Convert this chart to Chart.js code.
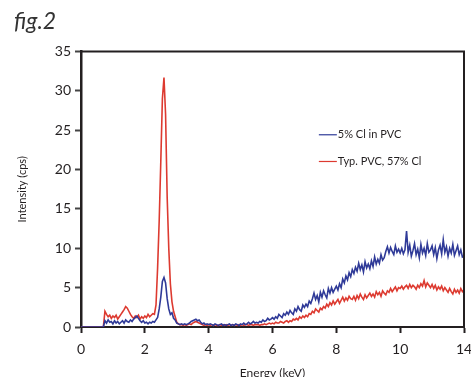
<!DOCTYPE html>
<html>
<head>
<meta charset="utf-8">
<title>fig.2</title>
<script src="https://cdn.jsdelivr.net/npm/chart.js@4.4.0/dist/chart.umd.min.js"></script>
<style>
  html, body { margin: 0; padding: 0; background: #fff; }
</style>
</head>
<body>
<canvas id="spectrumChart" width="471" height="377"></canvas>
<script>
// channel calibration: one reading every 0.05 keV starting at 0 keV
const energyStart = 0;
const energyStep = 0.05;

// 5% Cl in PVC (blue), rows of ten = 0.5 keV each, last value at 12.00 keV
const lowClCounts = [
  0, 0, 0, 0, 0, 0, 0, 0, 0, 0,
  0, 0, 0, 0, 0, 0.8, 0.5, 0.9, 0.6, 0.7,
  0.4, 0.8, 0.5, 0.7, 0.4, 0.6, 0.8, 0.5, 0.9, 0.7,
  0.6, 0.9, 0.7, 1.0, 1.2, 1.4, 1.1, 0.8, 0.6, 0.8,
  0.5, 0.6, 0.4, 0.6, 0.5, 0.7, 0.6, 0.9, 1.2, 2.3,
  3.8, 5.8, 6.3, 5.6, 3.6, 2.3, 1.6, 1.8, 1.1, 0.9,
  0.5, 0.4, 0.3, 0.4, 0.3, 0.4, 0.3, 0.4, 0.5, 0.7,
  0.8, 0.9, 1.0, 0.8, 0.9, 0.6, 0.4, 0.5, 0.3, 0.4,
  0.3, 0.4, 0.3, 0.2, 0.4, 0.3, 0.2, 0.3, 0.4, 0.2,
  0.3, 0.2, 0.3, 0.4, 0.2, 0.3, 0.2, 0.4, 0.3, 0.2,
  0.4, 0.3, 0.5, 0.3, 0.4, 0.6, 0.4, 0.5, 0.7, 0.5,
  0.6, 0.5, 0.7, 0.6, 0.9, 0.7, 0.8, 1.1, 0.9, 1.0,
  1.2, 1.0, 1.3, 1.1, 1.6, 1.4, 1.2, 1.7, 1.5, 1.9,
  1.6, 2.1, 1.8, 1.6, 2.3, 2.0, 2.6, 2.2, 2.0, 2.8,
  2.5, 2.9, 2.6, 3.3, 3.0, 3.6, 4.3, 3.5, 4.0, 3.2,
  4.4, 3.8, 4.6, 4.1, 3.7, 4.9, 4.3, 5.0, 4.4, 4.8,
  5.2, 4.7, 5.5, 5.0, 6.1, 5.6, 6.5, 6.0, 6.9, 6.4,
  7.3, 6.8, 7.6, 7.1, 8.1, 7.3, 7.9, 7.0, 8.3, 7.5,
  8.0, 7.4, 8.4, 7.7, 8.9, 8.0, 8.6, 8.1, 9.2, 8.5,
  8.8, 9.6, 10.2, 9.4, 10.1, 9.6, 9.2, 10.3, 9.5, 9.9,
  9.4, 10.0, 9.3, 9.8, 12.2, 9.5, 10.4, 9.0, 9.7, 10.6,
  9.2, 9.9, 8.8, 10.5, 9.4, 10.0, 9.1, 10.6, 9.5, 9.8,
  10.3, 9.2, 10.1, 8.7, 9.8, 10.4, 9.3, 11.1, 9.5, 10.2,
  9.0, 10.0, 9.4, 10.5, 9.1, 9.7, 10.3, 9.2, 9.8, 8.9,
  9.0
];

// Typ. PVC, 57% Cl (red)
const typPvcCounts = [
  0, 0, 0, 0, 0, 0, 0, 0, 0, 0,
  0, 0, 0, 0, 0, 2.0, 1.6, 1.3, 1.5, 1.1,
  1.4, 1.2, 1.5, 1.0, 1.3, 1.6, 1.9, 2.2, 2.6, 2.4,
  2.0, 1.6, 1.3, 1.1, 1.4, 1.2, 1.5, 1.0, 1.3, 1.1,
  1.4, 1.2, 1.6, 1.3, 1.5, 1.7, 1.6, 2.8, 7.5, 13.5,
  21.0, 29.0, 31.7, 27.0, 16.5, 10.0, 5.5, 3.2, 2.0, 1.3,
  0.6, 0.4, 0.3, 0.3, 0.2, 0.3, 0.2, 0.3, 0.4, 0.3,
  0.5, 0.6, 0.7, 0.6, 0.5, 0.4, 0.3, 0.2, 0.3, 0.2,
  0.3, 0.2, 0.3, 0.2, 0.3, 0.2, 0.2, 0.3, 0.2, 0.3,
  0.2, 0.3, 0.2, 0.3, 0.2, 0.3, 0.2, 0.3, 0.2, 0.3,
  0.2, 0.3, 0.2, 0.3, 0.3, 0.2, 0.3, 0.3, 0.2, 0.3,
  0.3, 0.3, 0.2, 0.3, 0.3, 0.4, 0.3, 0.4, 0.5, 0.4,
  0.5, 0.4, 0.6, 0.5, 0.5, 0.7, 0.6, 0.5, 0.7, 0.8,
  0.6, 0.8, 0.7, 1.0, 0.9, 1.1, 0.9, 1.3, 1.1, 1.4,
  1.2, 1.5, 1.3, 1.7, 1.6, 2.0, 1.8, 2.3, 2.1, 1.9,
  2.4, 2.2, 2.6, 2.4, 2.9, 2.6, 3.1, 2.8, 3.3, 2.9,
  3.2, 3.5, 3.0, 3.4, 3.8, 3.3, 3.7, 3.4, 3.9, 3.6,
  3.5, 3.9, 3.4, 4.0, 3.6, 4.2, 3.8, 3.5, 4.1, 3.7,
  4.0, 4.3, 3.9, 4.2, 3.8, 4.5, 4.1, 4.4, 3.9, 4.6,
  4.3, 4.1, 4.6, 4.4, 4.9, 4.5, 4.8, 5.1, 4.6, 5.0,
  4.9, 5.2, 4.8, 5.1, 5.3, 4.9, 5.4, 5.0, 5.3, 5.1,
  4.8, 5.3, 5.0, 5.5, 5.2, 5.9, 5.1, 5.6, 5.3, 5.0,
  5.4, 4.9, 5.3, 4.7, 5.1, 4.8, 5.2, 4.6, 5.0, 4.7,
  4.4, 4.9, 4.5, 4.2, 4.8, 4.4, 4.7, 4.3, 4.9, 4.5,
  4.7
];

const seriesNames = ['5% Cl in PVC', 'Typ. PVC, 57% Cl'];
const xTickLabels = ['0', '2', '4', '6', '8', '10', '14'];
const yTicks = [0, 5, 10, 15, 20, 25, 30, 35];

const BLUE = '#2f3a98';
const RED = '#dd3a30';
const INK = '#231f20';
const FONT = "Lato, 'DejaVu Sans', sans-serif";

function toPoints(values) {
  return values.map((v, i) => ({ x: +(energyStart + i * energyStep).toFixed(2), y: v }));
}

// top and right edges of the frame
const framePlugin = {
  id: 'frame',
  afterDatasetsDraw(chart) {
    const { ctx, chartArea: a } = chart;
    ctx.save();
    ctx.strokeStyle = INK;
    ctx.lineWidth = 2;
    ctx.beginPath();
    ctx.moveTo(a.left, a.top);
    ctx.lineTo(a.right, a.top);
    ctx.lineTo(a.right, a.bottom);
    ctx.stroke();
    ctx.restore();
  }
};

// legend sits inside the plot, right of centre
const insideLegend = {
  id: 'insideLegend',
  afterDraw(chart) {
    const { ctx, chartArea: a } = chart;
    const x0 = a.left + a.width * 0.621;
    const x1 = a.left + a.width * 0.668;
    const rows = [0.302, 0.399];
    ctx.save();
    ctx.font = '11px ' + FONT;
    ctx.textBaseline = 'middle';
    chart.data.datasets.forEach((ds, i) => {
      const y = a.top + a.height * rows[i];
      ctx.strokeStyle = ds.borderColor;
      ctx.lineWidth = 1.2;
      ctx.beginPath();
      ctx.moveTo(x0, y);
      ctx.lineTo(x1, y);
      ctx.stroke();
      ctx.fillStyle = INK;
      ctx.fillText(ds.label, x1 + 1, y);
    });
    ctx.restore();
  }
};

new Chart(document.getElementById('spectrumChart'), {
  type: 'line',
  data: {
    datasets: [
      {
        label: seriesNames[0],
        data: toPoints(lowClCounts),
        borderColor: BLUE,
        borderWidth: 1.6,
        pointRadius: 0,
        tension: 0,
        fill: false
      },
      {
        label: seriesNames[1],
        data: toPoints(typPvcCounts),
        borderColor: RED,
        borderWidth: 1.6,
        pointRadius: 0,
        tension: 0,
        fill: false
      }
    ]
  },
  options: {
    responsive: false,
    animation: false,
    layout: { padding: { left: 14, right: 7, top: 0, bottom: 0 } },
    plugins: {
      legend: { display: false },
      tooltip: { enabled: false },
      title: {
        display: true,
        text: 'fig.2',
        align: 'start',
        color: '#333',
        font: { family: FONT, size: 23, style: 'italic', weight: 'normal' },
        padding: { top: 8, bottom: 16 }
      }
    },
    scales: {
      x: {
        type: 'linear',
        min: 0,
        max: 12,
        afterFit(scale) {
          scale.height = 50;
          // let the last label run off the edge like the original
          scale.paddingRight = 0;
        },
        afterBuildTicks(scale) {
          scale.ticks = xTickLabels.map((t, i) => ({ value: i * 2 }));
        },
        ticks: {
          color: INK,
          font: { family: FONT, size: 14 },
          padding: 8,
          maxRotation: 0,
          autoSkip: false,
          callback: (v, i) => xTickLabels[i]
        },
        grid: {
          drawOnChartArea: false,
          drawTicks: true,
          tickLength: 6,
          tickWidth: 2,
          tickColor: INK
        },
        border: { display: true, color: INK, width: 2 },
        title: {
          display: true,
          text: 'Energy (keV)',
          color: INK,
          font: { family: FONT, size: 12 },
          padding: { top: 0, bottom: -3 }
        }
      },
      y: {
        min: 0,
        max: 35,
        afterFit(scale) { scale.width = 67; },
        afterBuildTicks(scale) {
          scale.ticks = yTicks.map(v => ({ value: v }));
        },
        ticks: {
          color: INK,
          font: { family: FONT, size: 14 },
          padding: 4
        },
        grid: {
          drawOnChartArea: false,
          drawTicks: true,
          tickLength: 6,
          tickWidth: 2,
          tickColor: '#444'
        },
        border: { display: true, color: INK, width: 2.5 },
        title: {
          display: true,
          text: 'Intensity (cps)',
          color: INK,
          font: { family: FONT, size: 11 },
          padding: { top: 2, bottom: 0 }
        }
      }
    }
  },
  plugins: [framePlugin, insideLegend]
});
</script>
</body>
</html>
